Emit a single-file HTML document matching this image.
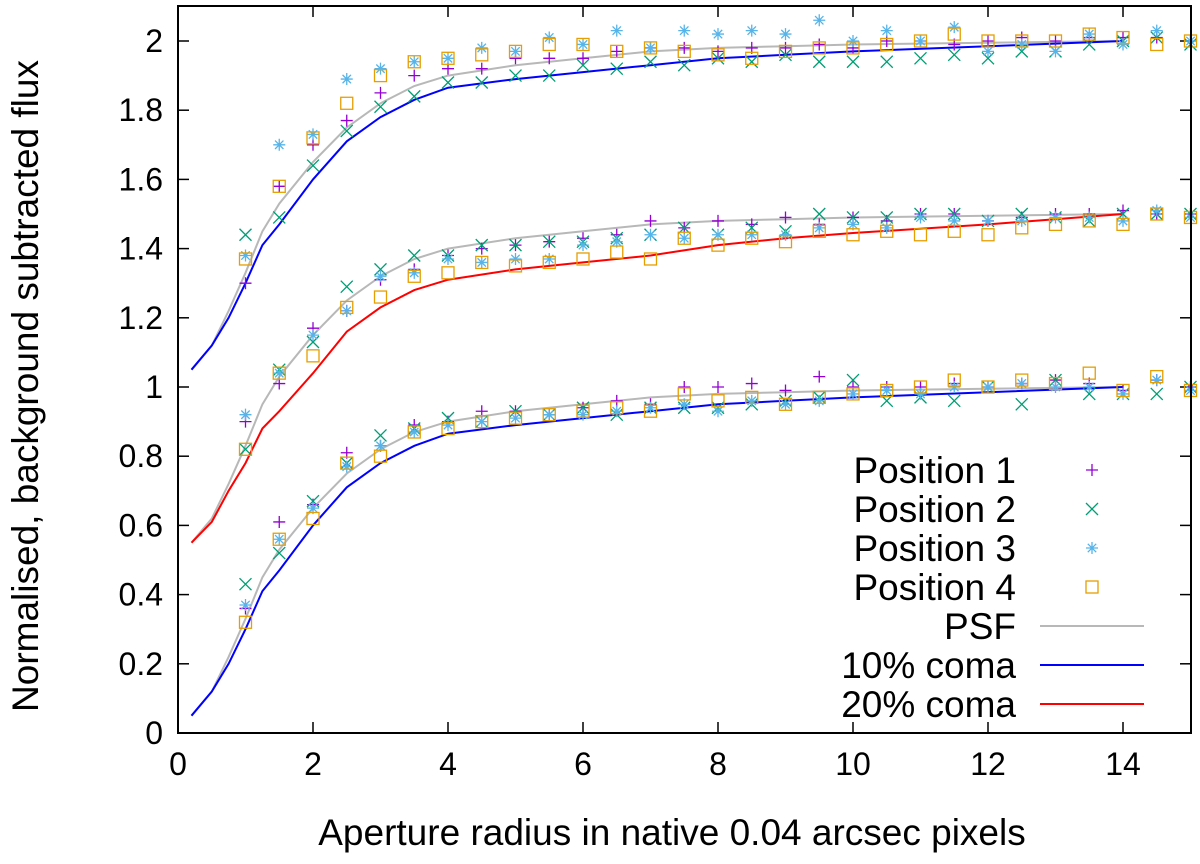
<!DOCTYPE html>
<html><head><meta charset="utf-8"><style>
body{margin:0;background:#fff}
svg text{font-family:"Liberation Sans",sans-serif;fill:#000}
</style></head><body>
<svg id="chart" width="1200" height="859">
<g id="grid"></g><g id="marks"></g><g id="legend"></g>
<rect x="178" y="6" width="1013" height="727" fill="none" stroke="#000" stroke-width="2"/>
<text x="672" y="845" font-size="37" text-anchor="middle">Aperture radius in native 0.04 arcsec pixels</text>
<text transform="translate(38,386) rotate(-90)" font-size="37" text-anchor="middle">Normalised, background subtracted flux</text>
</svg>
<script>
const xTicks=[0,2,4,6,8,10,12,14];
const yTicks=[0,0.2,0.4,0.6,0.8,1,1.2,1.4,1.6,1.8,2];
const curveX=[0.2,0.5,0.75,1,1.25,1.5,2,2.5,3,3.5,4,5,6,7,8,9,10,12,14];
const psfBase=[0.05,0.12,0.22,0.33,0.45,0.53,0.65,0.75,0.82,0.87,0.9,0.93,0.95,0.97,0.98,0.985,0.99,0.995,1.0];
const coma10=[0.05,0.12,0.2,0.3,0.41,0.47,0.6,0.71,0.78,0.83,0.865,0.89,0.91,0.93,0.95,0.96,0.97,0.985,1.0];
const coma20=[0.55,0.61,0.7,0.78,0.88,0.93,1.04,1.16,1.23,1.28,1.31,1.34,1.36,1.38,1.41,1.43,1.445,1.47,1.5];
const pointX=[1,1.5,2,2.5,3,3.5,4,4.5,5,5.5,6,6.5,7,7.5,8,8.5,9,9.5,10,10.5,11,11.5,12,12.5,13,13.5,14,14.5,15];
const bP1=[0.36,0.61,0.66,0.81,0.83,0.89,0.9,0.93,0.93,0.92,0.94,0.96,0.95,1.0,1.0,1.01,0.99,1.03,1.0,1.0,1.0,1.01,1.0,1.01,1.02,1.01,0.99,1.02,1.0];
const bP2=[0.43,0.52,0.67,0.78,0.86,0.88,0.91,0.9,0.93,0.92,0.94,0.92,0.94,0.94,0.94,0.95,0.96,0.97,1.02,0.96,0.97,0.96,1.0,0.95,1.02,0.98,0.98,0.98,1.0];
const bP3=[0.37,0.56,0.65,0.77,0.83,0.87,0.89,0.9,0.91,0.92,0.92,0.93,0.94,0.95,0.93,0.96,0.95,0.96,0.98,0.99,0.98,1.0,1.0,1.01,1.0,1.0,0.98,1.02,0.99];
const bP4=[0.32,0.56,0.62,0.78,0.8,0.87,0.88,0.9,0.91,0.92,0.93,0.94,0.93,0.98,0.96,0.97,0.95,0.97,0.98,0.99,1.0,1.02,1.0,1.02,1.01,1.04,0.99,1.03,0.99];
const mP1=[0.9,1.01,1.17,1.22,1.31,1.34,1.38,1.4,1.41,1.42,1.43,1.44,1.48,1.46,1.48,1.47,1.49,1.47,1.49,1.48,1.5,1.5,1.48,1.49,1.5,1.5,1.51,1.5,1.5];
const mP2=[0.82,1.05,1.13,1.29,1.34,1.38,1.38,1.41,1.41,1.42,1.42,1.43,1.44,1.46,1.44,1.46,1.45,1.5,1.49,1.49,1.5,1.5,1.48,1.5,1.49,1.48,1.5,1.5,1.5];
const mP3=[0.92,1.04,1.15,1.22,1.32,1.33,1.37,1.36,1.37,1.37,1.41,1.42,1.44,1.43,1.44,1.44,1.44,1.46,1.47,1.46,1.49,1.48,1.48,1.48,1.49,1.49,1.48,1.51,1.49];
const mP4=[0.82,1.04,1.09,1.23,1.26,1.32,1.33,1.36,1.35,1.36,1.37,1.39,1.37,1.43,1.41,1.43,1.42,1.45,1.44,1.45,1.44,1.45,1.44,1.46,1.47,1.48,1.47,1.5,1.49];
const tP1=[1.3,1.58,1.7,1.77,1.85,1.9,1.92,1.92,1.95,1.95,1.95,1.97,1.98,1.98,1.97,1.98,1.98,1.99,1.98,2.0,2.0,1.99,2.0,2.01,2.0,2.01,2.01,2.01,2.0];
const tP2=[1.44,1.49,1.64,1.74,1.81,1.84,1.88,1.88,1.9,1.9,1.93,1.92,1.94,1.93,1.95,1.94,1.96,1.94,1.94,1.94,1.95,1.96,1.95,1.97,1.97,1.99,2.0,2.01,1.99];
const tP3=[1.38,1.7,1.73,1.89,1.92,1.94,1.95,1.98,1.97,2.01,1.99,2.03,1.98,2.03,2.02,2.03,2.02,2.06,2.0,2.03,2.0,2.04,1.97,1.99,1.97,2.02,1.99,2.03,2.0];
const tP4=[1.37,1.58,1.72,1.82,1.9,1.94,1.95,1.96,1.97,1.99,1.99,1.97,1.98,1.97,1.96,1.95,1.97,1.98,1.98,1.99,2.0,2.02,2.0,2.0,2.0,2.02,2.01,1.99,2.0];

const NS='http://www.w3.org/2000/svg';
const X=v=>178+v*67.5, Y=v=>733-v*346;
function mk(tag,parent,attrs){const e=document.createElementNS(NS,tag);for(const k in attrs)e.setAttribute(k,attrs[k]);parent.appendChild(e);return e;}
const grid=document.getElementById('grid'),marks=document.getElementById('marks'),leg=document.getElementById('legend');
xTicks.forEach(t=>{
  let l=mk('line',grid,{x1:X(t),x2:X(t),y1:733,y2:722,stroke:'#000','stroke-width':1.5});
  
  
  let l2=mk('line',grid,{x1:X(t),x2:X(t),y1:6,y2:17,stroke:'#000','stroke-width':1.5});
  
  
  let tx=mk('text',grid,{x:X(t),y:775,'font-size':32,'text-anchor':'middle'});tx.textContent=t;
  
  
});
yTicks.forEach(t=>{
  let l=mk('line',grid,{x1:178,x2:189,y1:Y(t),y2:Y(t),stroke:'#000','stroke-width':1.5});
  
  
  let l2=mk('line',grid,{x1:1180,x2:1191,y1:Y(t),y2:Y(t),stroke:'#000','stroke-width':1.5});
  
  
  let tx=mk('text',grid,{x:163,y:Y(t)+11,'font-size':32,'text-anchor':'end'});tx.textContent=String(t);
  
  
});
function line(vals,off,color,name){
  const d=vals.map((v,i)=>(i?'L':'M')+X(curveX[i]).toFixed(1)+','+Y(v+off).toFixed(1)).join('');
  const p=mk('path',marks,{d:d,fill:'none',stroke:color,'stroke-width':2});
  
  
}
line(psfBase,0,'#b8b8b8','psf-line-bottom');line(psfBase,0.5,'#b8b8b8','psf-line-middle');line(psfBase,1,'#b8b8b8','psf-line-top');
line(coma10,0,'#0000ff','coma10-line-bottom');line(coma10,1,'#0000ff','coma10-line-top');
line(coma20,0,'#ff0000','coma20-line-middle');
const C=['#9400d3','#009e73','#56b4e9','#e69f00'];
function sym(k,cx,cy,parent){
  const g=mk('g',parent,{stroke:C[k],'stroke-width':1.3,fill:'none'});const s=6;
  if(k==0){mk('path',g,{d:`M${cx-s},${cy}h${2*s}M${cx},${cy-s}v${2*s}`});}
  else if(k==1){mk('path',g,{d:`M${cx-s},${cy-s}l${2*s},${2*s}M${cx-s},${cy+s}l${2*s},${-2*s}`});}
  else if(k==2){mk('path',g,{d:`M${cx-s},${cy}h${2*s}M${cx},${cy-s}v${2*s}M${cx-s*.7},${cy-s*.7}l${1.4*s},${1.4*s}M${cx-s*.7},${cy+s*.7}l${1.4*s},${-1.4*s}`});}
  else{mk('rect',g,{x:cx-s,y:cy-s,width:2*s,height:2*s});}
  return g;
}
const sets=[[bP1,bP2,bP3,bP4],[mP1,mP2,mP3,mP4],[tP1,tP2,tP3,tP4]];
sets.forEach(grp=>grp.forEach((arr,k)=>arr.forEach((v,i)=>{
  const g=sym(k,X(pointX[i]),Y(v),marks);
  
  
})));
const legNames=['Position 1','Position 2','Position 3','Position 4','PSF','10% coma','20% coma'];
const legCol=['','','','','#b8b8b8','#0000ff','#ff0000'];
legNames.forEach((n,i)=>{
  const y=470+i*39;
  const t=mk('text',leg,{x:1016,y:y+13,'font-size':37,'text-anchor':'end'});t.textContent=n;
  
  
  let m;
  if(i<4)m=sym(i,1092,y,leg);else m=mk('line',leg,{x1:1040,x2:1144,y1:y,y2:y,stroke:legCol[i],'stroke-width':2});
  
  
});
</script>
</body></html>
